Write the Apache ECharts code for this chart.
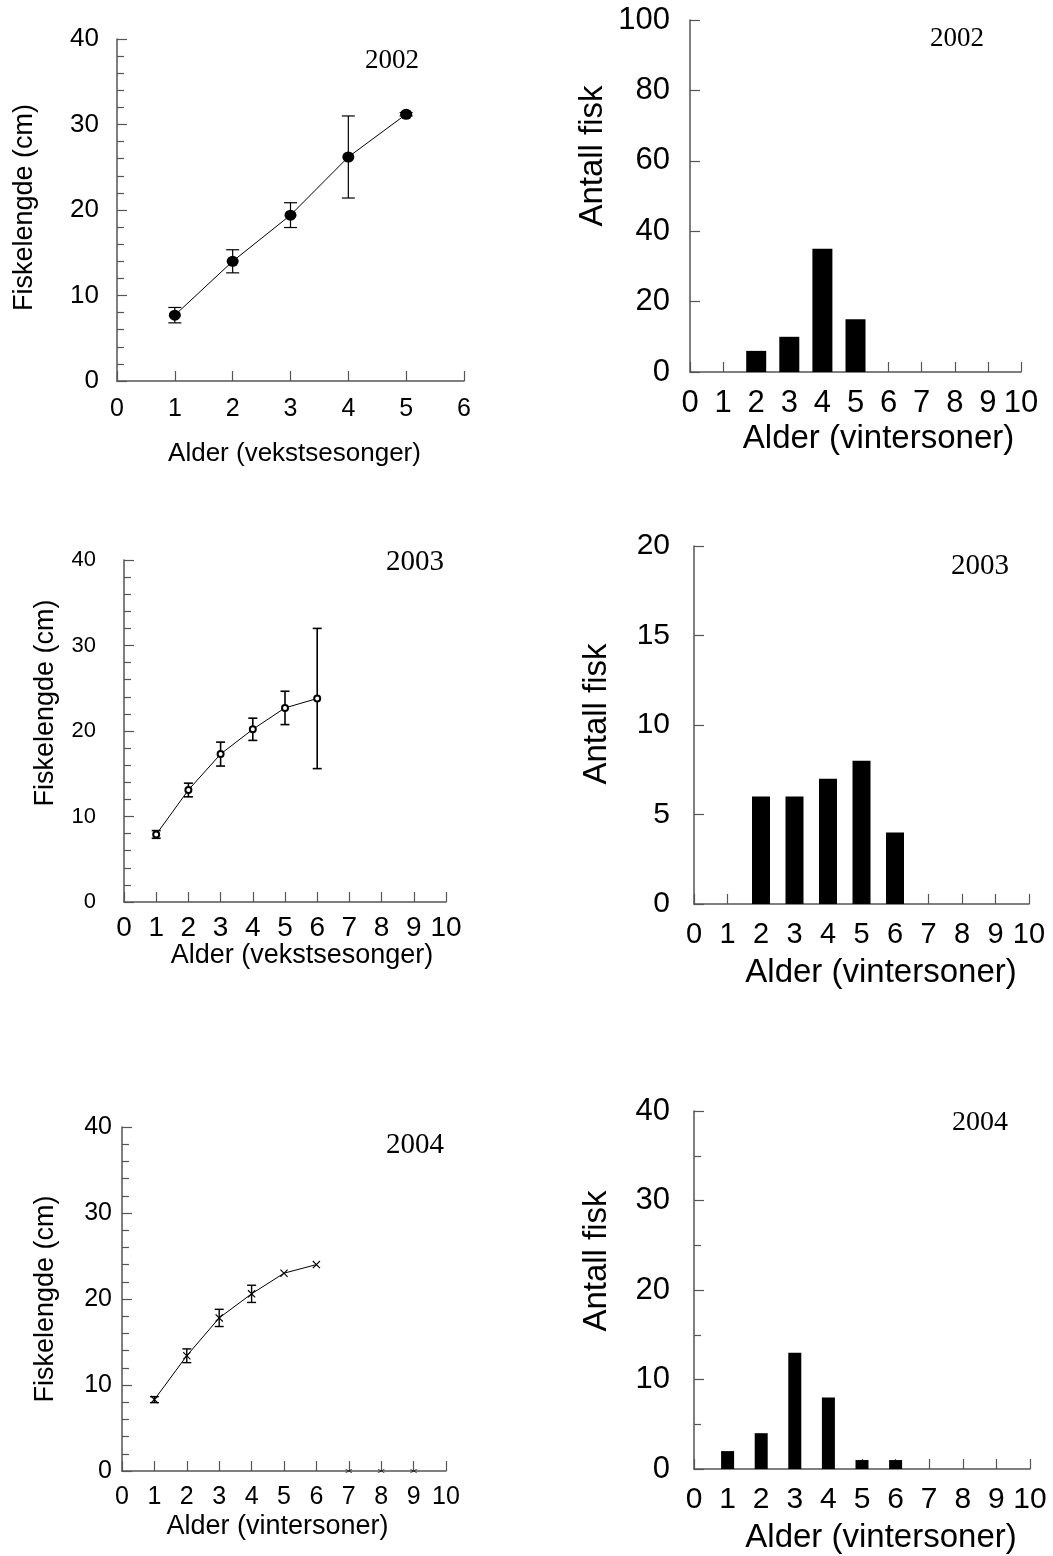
<!DOCTYPE html>
<html>
<head>
<meta charset="utf-8">
<script src="https://cdn.jsdelivr.net/npm/echarts@6/dist/echarts.min.js"></script>
<style>
  html, body { margin: 0; padding: 0; background: #fff; }
  #main { width: 1053px; height: 1556px; }
</style>
</head>
<body>
<div id="main"></div>
<script>
// lengde per alder (snitt og feil)
const ages2002 = [1, 2, 3, 4, 5]
const len2002 = [7.7, 14.0, 19.4, 26.2, 31.2]
const err2002 = [0.9, 1.35, 1.45, 4.8, 0.2]

const ages2003 = [1, 2, 3, 4, 5, 6]
const len2003 = [7.9, 13.1, 17.3, 20.2, 22.7, 23.8]
const err2003 = [0.45, 0.8, 1.4, 1.3, 1.95, 8.2]

const ages2004 = [1, 2, 3, 4, 5, 6]
const len2004 = [8.3, 13.4, 17.8, 20.6, 23.0, 24.0]
const err2004 = [0.35, 0.8, 1.0, 1.0, 0, 0]
const zeroAges2004 = [7, 8, 9]

// antall fisk per alder
const countAges = [1, 2, 3, 4, 5, 6, 7, 8, 9, 10]
const count2002 = [0, 6, 10, 35, 15, 0, 0, 0, 0, 0]
const count2003 = [0, 6, 6, 7, 8, 4, 0, 0, 0, 0]
const count2004 = [2, 4, 13, 8, 1, 1, 0, 0, 0, 0]

const years = ['2002', '2003', '2004']

const SANS = 'Liberation Sans, Arial, sans-serif'
const SERIF = 'Liberation Serif, Times New Roman, serif'
const AXIS_COLOR = '#555'

const chart = echarts.init(document.getElementById('main'))

const grids = [
    { left: 117, top: 39, width: 347, height: 342 },
    { left: 690, top: 20, width: 331, height: 352 },
    { left: 124, top: 560, width: 322, height: 342 },
    { left: 694, top: 546, width: 335, height: 358 },
    { left: 122, top: 1127, width: 324, height: 344 },
    { left: 694, top: 1111, width: 336, height: 358 }
]

function xAxis(i, max, o) {
    return {
        type: 'value', gridIndex: i, min: 0, max: max, interval: 1,
        name: o.name, nameLocation: 'middle', nameGap: o.nameGap, nameMoveOverlap: false,
        nameTextStyle: { fontFamily: SANS, fontSize: o.nameSize, color: '#000', padding: o.namePad || 0 },
        axisLine: { onZero: false, lineStyle: { color: AXIS_COLOR, width: 1.5 } },
        axisTick: { inside: true, length: 10, lineStyle: { color: AXIS_COLOR, width: 1.2 } },
        axisLabel: { margin: o.margin, fontFamily: SANS, fontSize: o.size, color: '#000', showMinLabel: true, showMaxLabel: true },
        splitLine: { show: false }
    }
}

function yAxis(i, max, interval, o) {
    return {
        type: 'value', gridIndex: i, min: 0, max: max, interval: interval,
        name: o.name, nameLocation: 'middle', nameGap: o.nameGap, nameMoveOverlap: false,
        nameTextStyle: { fontFamily: SANS, fontSize: o.nameSize, color: '#000', padding: o.namePad || 0 },
        axisLine: { onZero: false, lineStyle: { color: AXIS_COLOR, width: 1.5 } },
        axisTick: { inside: true, length: 10, lineStyle: { color: AXIS_COLOR, width: 1.2 } },
        minorTick: { show: !!o.minor, splitNumber: o.minor || 5, length: 7, lineStyle: { color: AXIS_COLOR, width: 1.2 } },
        axisLabel: { margin: o.margin, fontFamily: SANS, fontSize: o.size, color: '#000', showMinLabel: true, showMaxLabel: true },
        splitLine: { show: false },
        minorSplitLine: { show: false }
    }
}

// feilstolper tegnet via aksene
function errorSeries(i, ages, vals, errs, cap, lw) {
    return {
        type: 'custom', xAxisIndex: i, yAxisIndex: i, z: 2,
        data: ages.map((a, k) => [a, vals[k], errs[k]]),
        encode: { x: 0, y: 1 },
        renderItem(params, api) {
            const x = api.value(0), y = api.value(1), e = api.value(2)
            if (!e) return null
            const t = api.coord([x, y + e])
            const b = api.coord([x, y - e])
            const st = { stroke: '#000', lineWidth: lw }
            return {
                type: 'group',
                children: [
                    { type: 'line', shape: { x1: t[0], y1: t[1], x2: b[0], y2: b[1] }, style: st },
                    { type: 'line', shape: { x1: t[0] - cap / 2, y1: t[1], x2: t[0] + cap / 2, y2: t[1] }, style: st },
                    { type: 'line', shape: { x1: b[0] - cap / 2, y1: b[1], x2: b[0] + cap / 2, y2: b[1] }, style: st }
                ]
            }
        }
    }
}

function lineSeries(i, ages, vals, symbol, size, style) {
    return {
        type: 'line', xAxisIndex: i, yAxisIndex: i, z: 3,
        data: ages.map((a, k) => [a, vals[k]]),
        symbol: symbol, symbolSize: size, showAllSymbol: true,
        lineStyle: { color: '#000', width: 1 },
        itemStyle: style,
        animation: false
    }
}

function barSeries(i, counts, w) {
    return {
        type: 'bar', xAxisIndex: i, yAxisIndex: i, z: 2,
        data: countAges.map((a, k) => [a, counts[k]]),
        barWidth: w,
        itemStyle: { color: '#000' },
        animation: false
    }
}

const crossPath = 'path://M0,1 L1,0 L5,4 L9,0 L10,1 L6,5 L10,9 L9,10 L5,6 L1,10 L0,9 L4,5 Z'

const yearLabels = [
    { x: 392, y: 61, size: 27 },
    { x: 957, y: 39, size: 27 },
    { x: 415, y: 562, size: 29 },
    { x: 980, y: 566, size: 29 },
    { x: 415, y: 1145, size: 29 },
    { x: 980, y: 1123, size: 28 }
]

const option = {
    backgroundColor: '#fff',
    animation: false,
    title: yearLabels.map((p, k) => ({
        text: years[Math.floor(k / 2)],
        left: p.x, top: p.y, padding: 0,
        textAlign: 'center', textVerticalAlign: 'middle',
        textStyle: { fontFamily: SERIF, fontSize: p.size, fontWeight: 'normal', color: '#000' }
    })),
    grid: grids.map(g => Object.assign({ containLabel: false, outerBoundsMode: 'none' }, g)),
    xAxis: [
        xAxis(0, 6, { name: 'Alder (vekstsesonger)', nameGap: 60, nameSize: 26, margin: 16, size: 25, namePad: [0, 0, 0, 8] }),
        xAxis(1, 10, { name: 'Alder (vintersoner)', nameGap: 50, nameSize: 33, margin: 16, size: 31, namePad: [0, 0, 0, 46] }),
        xAxis(2, 10, { name: 'Alder (vekstsesonger)', nameGap: 40, nameSize: 27, margin: 12, size: 28, namePad: [0, 0, 0, 34] }),
        xAxis(3, 10, { name: 'Alder (vintersoner)', nameGap: 52, nameSize: 33, margin: 16, size: 29, namePad: [0, 0, 0, 39] }),
        xAxis(4, 10, { name: 'Alder (vintersoner)', nameGap: 42, nameSize: 27, margin: 14, size: 25, namePad: [0, 13, 0, 0] }),
        xAxis(5, 10, { name: 'Alder (vintersoner)', nameGap: 52, nameSize: 33, margin: 16, size: 30, namePad: [0, 0, 0, 38] })
    ],
    yAxis: [
        yAxis(0, 40, 10, { name: 'Fiskelengde (cm)', nameGap: 79, nameSize: 27, margin: 18, size: 26, minor: 5, namePad: [0, 0, 0, 5] }),
        yAxis(1, 100, 20, { name: 'Antall fisk', nameGap: 81, nameSize: 33, margin: 20, size: 31, namePad: [0, 0, 0, 80] }),
        yAxis(2, 40, 10, { name: 'Fiskelengde (cm)', nameGap: 65, nameSize: 27, margin: 28, size: 22, minor: 5, namePad: [0, 0, 0, 56] }),
        yAxis(3, 20, 5, { name: 'Antall fisk', nameGap: 81, nameSize: 33, margin: 24, size: 30, namePad: [0, 0, 0, 22] }),
        yAxis(4, 40, 10, { name: 'Fiskelengde (cm)', nameGap: 63, nameSize: 27, margin: 10, size: 25, minor: 5 }),
        yAxis(5, 40, 10, { name: 'Antall fisk', nameGap: 81, nameSize: 33, margin: 24, size: 31, minor: 2, namePad: [0, 0, 0, 58] })
    ],
    series: [
        errorSeries(0, ages2002, len2002, err2002, 13, 1.2),
        lineSeries(0, ages2002, len2002, 'circle', [12, 11], { color: '#000' }),
        barSeries(1, count2002, 20),

        errorSeries(2, ages2003, len2003, err2003, 9, 1.6),
        lineSeries(2, ages2003, len2003, 'emptyCircle', 6, { color: '#000', borderColor: '#000', borderWidth: 1 }),
        barSeries(3, count2003, 18),

        errorSeries(4, ages2004, len2004, err2004, 9, 1.4),
        lineSeries(4, ages2004, len2004, crossPath, 8, { color: '#000' }),
        {
            type: 'scatter', xAxisIndex: 4, yAxisIndex: 4, z: 3,
            data: zeroAges2004.map(a => [a, 0]),
            symbol: crossPath, symbolSize: [7, 4],
            itemStyle: { color: '#000' }
        },
        barSeries(5, count2004, 13)
    ]
}

chart.setOption(option)
</script>
</body>
</html>
